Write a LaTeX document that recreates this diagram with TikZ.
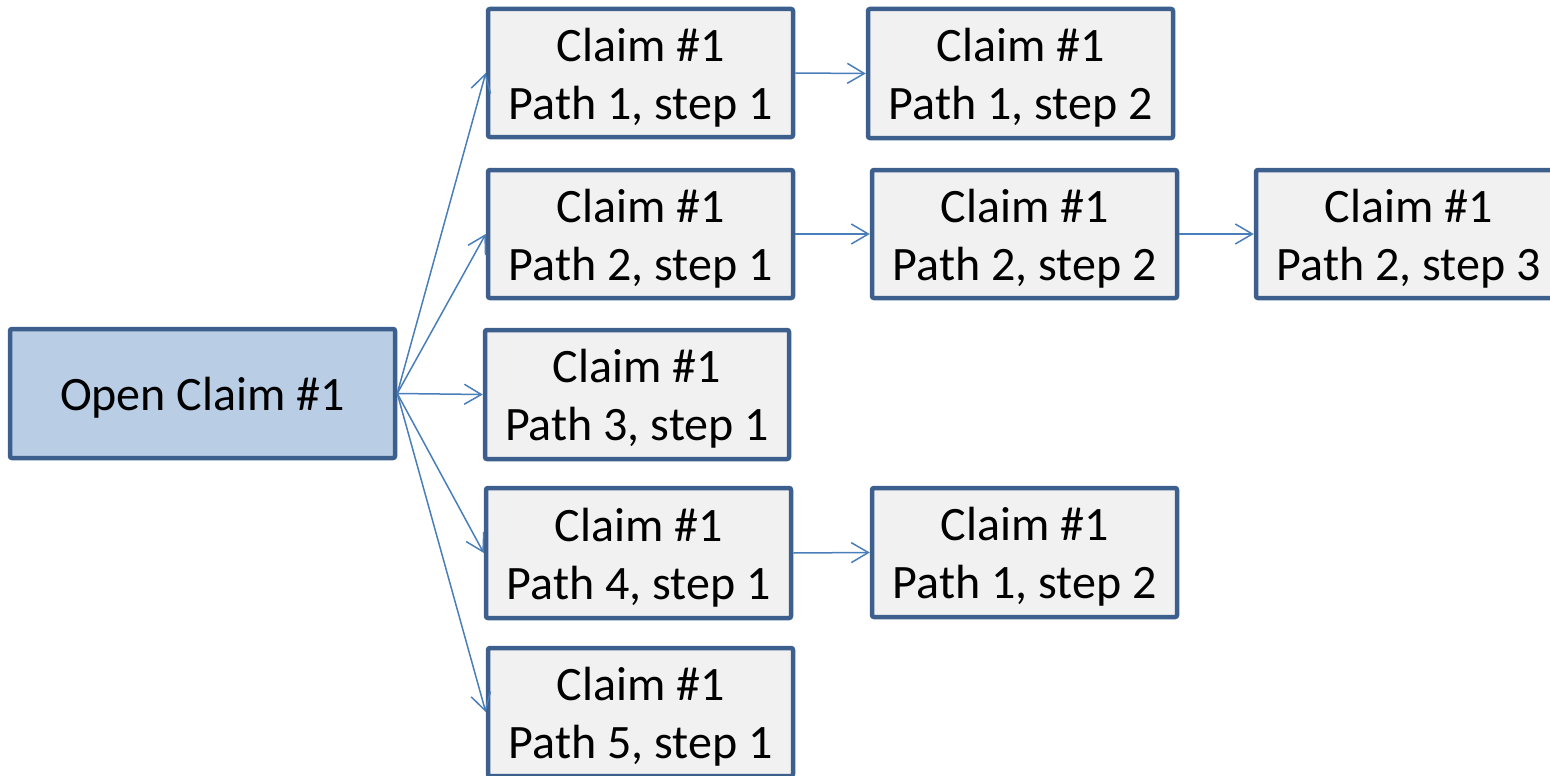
\documentclass[tikz,border=0pt]{standalone}
\usepackage{fontspec}
\setmainfont{Carlito}
\usetikzlibrary{arrows.meta}
\definecolor{boxborder}{HTML}{3C5F8E}
\definecolor{boxfill}{HTML}{F1F1F1}
\definecolor{openfill}{HTML}{B9CDE5}
\definecolor{arrowcol}{HTML}{4A7EBB}
\begin{document}
\begin{tikzpicture}[x=1pt,y=-1pt,
  boxtext/.style={inner sep=0pt, align=center, font=\fontsize{48}{58}\selectfont, yshift=-4.5pt},
  claimbox/.style={draw=boxborder, fill=boxfill, line width=4.5pt, rounded corners=2pt,
    minimum width=305pt, minimum height=128pt, inner sep=0pt},
  openbox/.style={claimbox, fill=openfill, minimum width=385pt, minimum height=129pt},
  conn/.style={draw=arrowcol, line width=1.5pt, -{Straight Barb[length=17pt,width=20pt,line width=1.5pt]}}]
\useasboundingbox (0,0) rectangle (1550,776);
\clip (0,0) rectangle (1550,776);
\node[openbox, label={[boxtext]center:Open Claim \#1}] (open) at (202.5,393.5) {};
\node[claimbox, label={[boxtext]center:Claim \#1\\Path 1, step 1}] (a1) at (640.5,73) {};
\node[claimbox, label={[boxtext]center:Claim \#1\\Path 2, step 1}] (a2) at (640.5,234) {};
\node[claimbox, minimum width=304pt, minimum height=129pt, label={[boxtext]center:Claim \#1\\Path 3, step 1}] (a3) at (637,394.5) {};
\node[claimbox, minimum height=130pt, label={[boxtext]center:Claim \#1\\Path 4, step 1}] (a4) at (638.5,553) {};
\node[claimbox, label={[boxtext]center:Claim \#1\\Path 5, step 1}] (a5) at (640.5,712) {};
\node[claimbox, minimum height=129pt, label={[boxtext]center:Claim \#1\\Path 1, step 2}] (b1) at (1020.5,73.5) {};
\node[claimbox, label={[boxtext]center:Claim \#1\\Path 2, step 2}] (b2) at (1024.5,234) {};
\node[claimbox, minimum height=129pt, label={[boxtext]center:Claim \#1\\Path 1, step 2}] (b4) at (1024.5,552.5) {};
\node[claimbox, label={[boxtext]center:Claim \#1\\Path 2, step 3}] (c2) at (1408.5,234) {};
\draw[conn] (open.east) -- (a1.west);
\draw[conn] (open.east) -- (a2.west);
\draw[conn] (open.east) -- (a3.west);
\draw[conn] (open.east) -- (a4.west);
\draw[conn] (open.east) -- (a5.west);
\draw[conn] (a1.east) -- (b1.west);
\draw[conn] (a2.east) -- (b2.west);
\draw[conn] (b2.east) -- (c2.west);
\draw[conn] (a4.east) -- (b4.west);
\end{tikzpicture}
\end{document}
